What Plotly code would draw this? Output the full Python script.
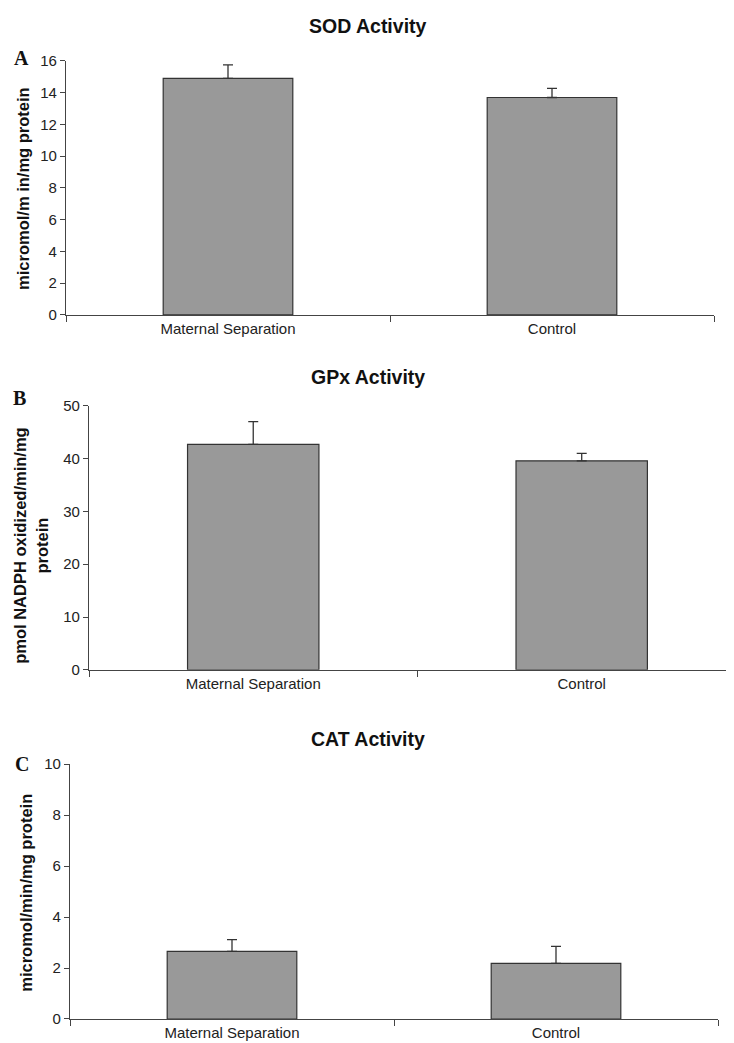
import plotly.graph_objects as go

categories = ["Maternal Separation", "Control"]

sod_values = [14.9, 13.7]
sod_errors = [0.85, 0.57]

gpx_values = [42.7, 39.6]
gpx_errors = [4.3, 1.4]

cat_values = [2.65, 2.18]
cat_errors = [0.46, 0.67]

titles = ["SOD Activity", "GPx Activity", "CAT Activity"]
letters = ["A", "B", "C"]
ytitles = ["micromol/m in/mg protein",
           "pmol NADPH oxidized/min/mg<br>protein",
           "micromol/min/mg protein"]
yranges = [[0, 16], [0, 50], [0, 10]]
ydticks = [2, 10, 2]

W, H = 734, 1043


def px_x(p):
    return (p - 8) / W


def px_y(p):
    return 1 - ((p - 16) / 0.984) / H


# pixel geometry of each panel (reference coords): (left, right, top, bottom)
panels = [(66, 714, 60, 314), (89, 742, 405, 669), (70, 718, 763.3, 1018.3)]
xranges = [[-0.5, 1.5], [-0.5, 1.488], [-0.5, 1.5]]

fig = go.Figure()
series = [(sod_values, sod_errors), (gpx_values, gpx_errors), (cat_values, cat_errors)]

axis_col = "#444444"
font_fam = "Liberation Sans, Arial, sans-serif"

for i, (vals, errs) in enumerate(series):
    n = "" if i == 0 else str(i + 1)
    fig.add_trace(go.Bar(
        x=categories, y=vals,
        xaxis="x" + n, yaxis="y" + n,
        width=0.4,
        marker=dict(color="#999999", line=dict(color="#333333", width=1.2)),
        error_y=dict(type="data", array=errs, symmetric=False, arrayminus=[0, 0],
                     color="#333333", thickness=1.3, width=5),
        showlegend=False,
    ))
    l, r, t, b = panels[i]
    fig.update_layout(**{
        "xaxis" + n: dict(
            domain=[px_x(l), min(1, px_x(r))], anchor="y" + n, range=xranges[i],
            type="category", showline=True, linecolor=axis_col, linewidth=1.2,
            ticks="outside", tickson="boundaries", ticklen=6, tickcolor=axis_col,
            tickfont=dict(family=font_fam, size=15, color="#222222"),
            showgrid=False, zeroline=False, fixedrange=True,
        ),
        "yaxis" + n: dict(
            domain=[px_y(b), px_y(t)], anchor="x" + n, range=yranges[i],
            dtick=ydticks[i], showline=True, linecolor=axis_col, linewidth=1.2,
            ticks="outside", ticklen=5, tickcolor=axis_col,
            tickfont=dict(family=font_fam, size=15, color="#222222"),
            showgrid=False, zeroline=False,
        ),
    })

title_y = [25, 376, 738]
letter_pos = [(21, 57), (20, 397), (22, 763)]
ytitle_pos = [(23, 188), (31, 545), (26, 892)]
annotations = []
for i in range(3):
    annotations.append(dict(
        text="<b>" + titles[i] + "</b>", x=px_x(368),
        y=px_y(title_y[i]), xref="paper", yref="paper", showarrow=False,
        xanchor="center", yanchor="middle",
        font=dict(family=font_fam, size=19.5, color="#111111"),
    ))
    lx, ly = letter_pos[i]
    annotations.append(dict(
        text="<b>" + letters[i] + "</b>", x=px_x(lx), y=px_y(ly),
        xref="paper", yref="paper", showarrow=False,
        xanchor="center", yanchor="middle",
        font=dict(family="Liberation Serif, Times New Roman, serif", size=20, color="#111111"),
    ))
    tx, ty = ytitle_pos[i]
    annotations.append(dict(
        text="<b>" + ytitles[i] + "</b>", x=px_x(tx), y=px_y(ty),
        xref="paper", yref="paper", showarrow=False, textangle=-90,
        xanchor="center", yanchor="middle",
        font=dict(family=font_fam, size=16.5, color="#111111"),
    ))

fig.update_layout(
    width=W, height=H,
    margin=dict(l=0, r=0, t=0, b=0),
    paper_bgcolor="white", plot_bgcolor="white",
    annotations=annotations,
)

fig.write_html("out.html")
